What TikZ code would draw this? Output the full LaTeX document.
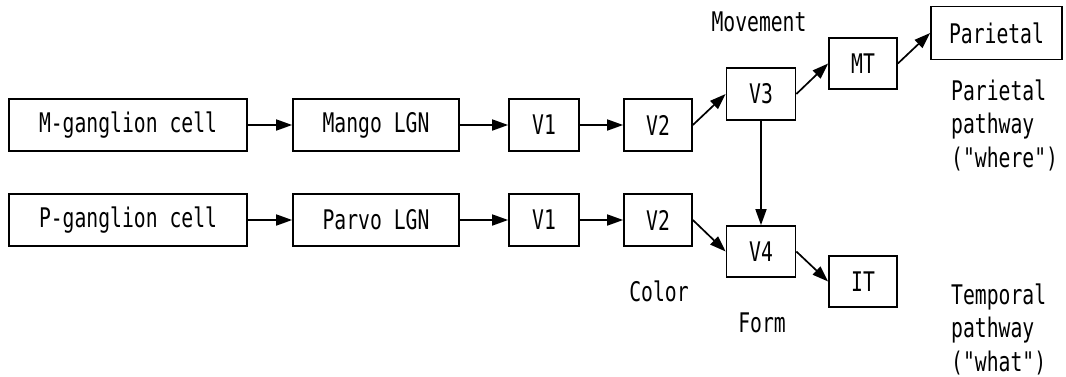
\documentclass[tikz,border=0pt]{standalone}
\usepackage{fontspec}
\setmonofont{DejaVu Sans Mono}[FakeStretch=0.73]
\usetikzlibrary{arrows.meta}
\begin{document}
\begin{tikzpicture}[x=1pt,y=-1pt,
  box/.style={draw,line width=1.7pt,inner sep=0pt,minimum height=52pt,font=\ttfamily\fontsize{27}{33.5}\selectfont},
  lbl/.style={inner sep=0pt,font=\ttfamily\fontsize{27}{33.5}\selectfont},
  conn/.style={line width=1.7pt,-{Triangle[length=16pt,width=11pt]}}]
\useasboundingbox (0,0) rectangle (1066,376);
\node[box,minimum width=238pt] (mg) at (128,125) {M-ganglion cell};
\node[box,minimum width=166pt] (mlgn) at (376,125) {Mango LGN};
\node[box,minimum width=70pt] (v1u) at (544,125) {V1};
\node[box,minimum width=68pt] (v2u) at (658,125) {V2};
\node[box,minimum width=69pt] (v3) at (761,94) {V3};
\node[box,minimum width=68pt,minimum height=51pt] (mt) at (863,63.5) {MT};
\node[box,minimum width=131pt,minimum height=53pt] (par) at (996.5,33) {Parietal};
\node[box,minimum width=238pt] (pg) at (128,220) {P-ganglion cell};
\node[box,minimum width=166pt] (plgn) at (376,220) {Parvo LGN};
\node[box,minimum width=70pt] (v1l) at (544,220) {V1};
\node[box,minimum width=68pt] (v2l) at (658,220) {V2};
\node[box,minimum width=69pt,minimum height=51pt] (v4) at (761,251.5) {V4};
\node[box,minimum width=68pt,minimum height=51pt] (it) at (863,281.5) {IT};
\node[lbl] (mov) at (759,22) {Movement};
\node[lbl] (col) at (659,291) {Color};
\node[lbl] (frm) at (762,323) {Form};
\node[lbl,anchor=base west,align=left] (pp) at (951,167) {Parietal\\pathway\\("where")};
\node[lbl,anchor=base west,align=left] (tp) at (951,371) {Temporal\\pathway\\("what")};
\draw[conn] (mg) -- (mlgn);
\draw[conn] (mlgn) -- (v1u);
\draw[conn] (v1u) -- (v2u);
\draw[conn] (v2u.east) -- (v3.west);
\draw[conn] (v3.east) -- (mt.west);
\draw[conn] (mt.east) -- (par.west);
\draw[conn] (pg) -- (plgn);
\draw[conn] (plgn) -- (v1l);
\draw[conn] (v1l) -- (v2l);
\draw[conn] (v2l.east) -- (v4.west);
\draw[conn] (v4.east) -- (it.west);
\draw[conn] (v3.south) -- (v4.north);
\end{tikzpicture}
\end{document}
